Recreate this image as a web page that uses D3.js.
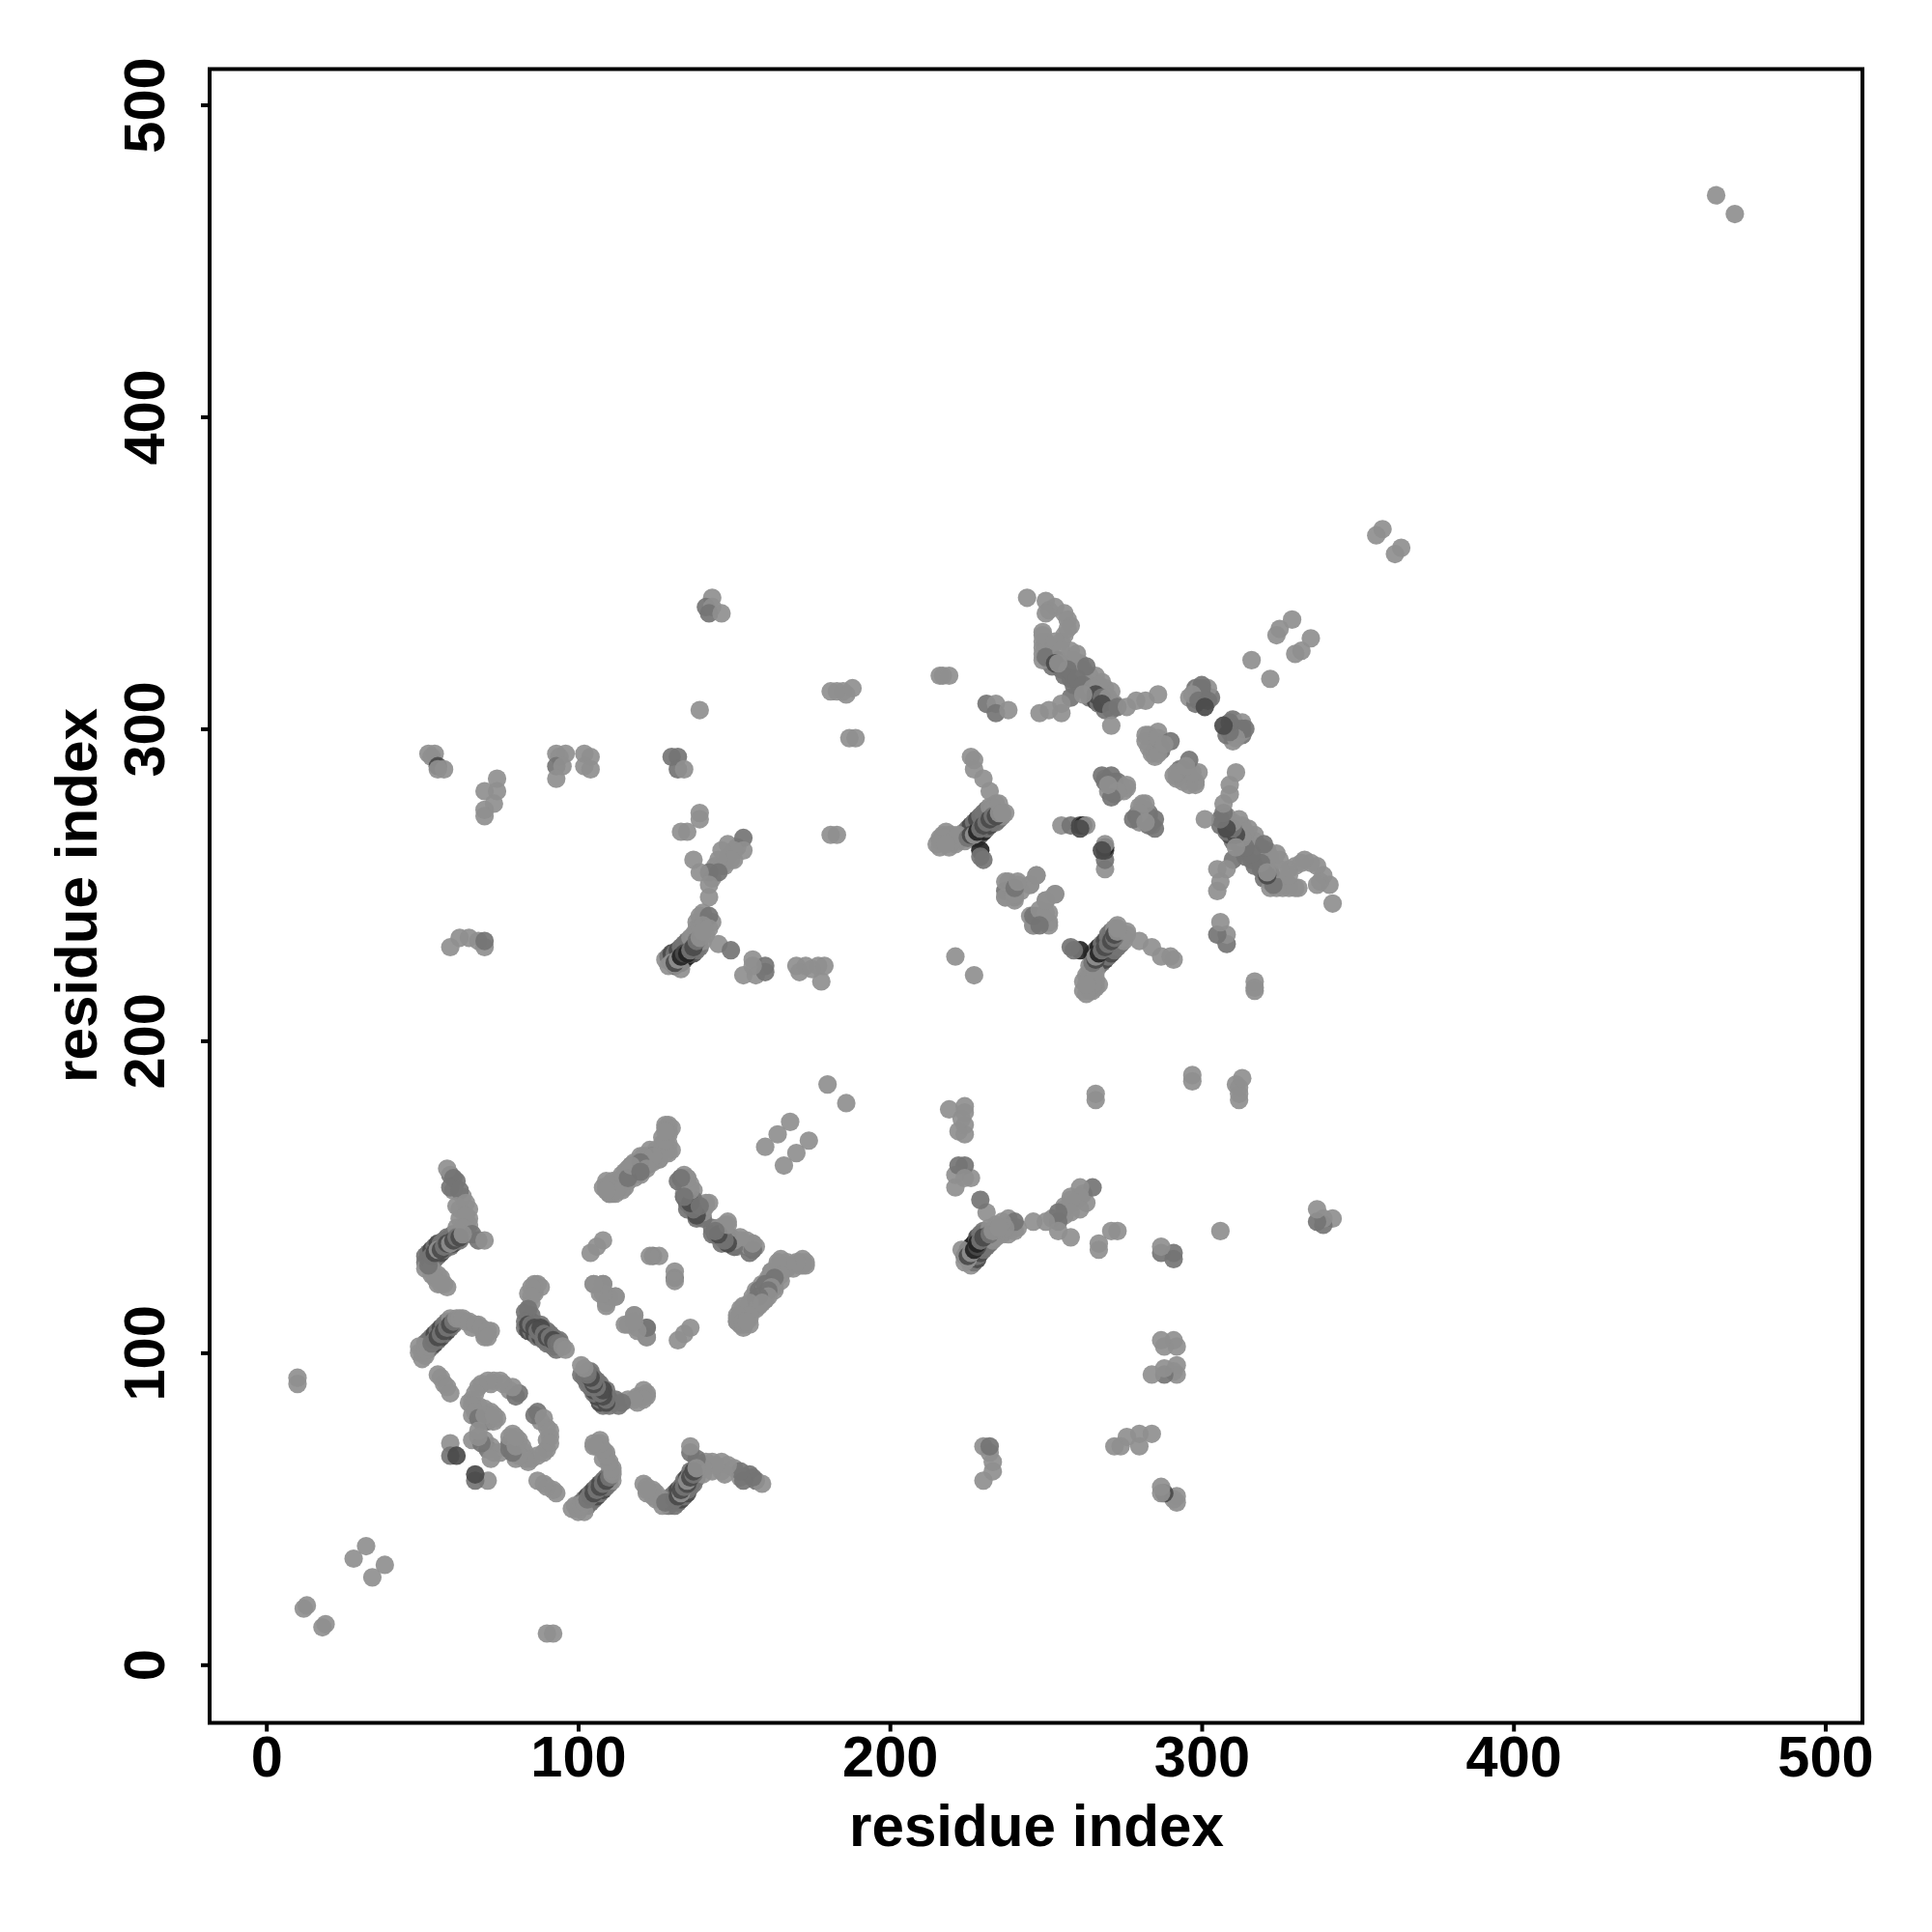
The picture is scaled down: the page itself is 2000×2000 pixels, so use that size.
<!DOCTYPE html>
<html><head><meta charset="utf-8">
<script src="https://cdnjs.cloudflare.com/ajax/libs/d3/7.8.5/d3.min.js"></script>
<style>html,body{margin:0;background:#fff}svg{display:block}</style></head>
<body><svg id="c" width="2000" height="2000"></svg>
<script>
// contacts [i, j, weight], i<j; contact maps are symmetric so each is also shown at (j,i)
const nearDiagonal = [[12,18,0],[13,19,0],[28,34,0],[32,38,0],[180,186,0],[358,364,0],[356,362,0],[465,471,0],[221,227,0],[168,174,0],[164,170,0],[160,166,0],[10,90,0],[10,92,0]];
const sideStrands = [
 [54,130,1],[55,131,1],[56,132,2],[57,133,1],[58,134,2],[59,134,1],[60,135,2],[61,136,1],[62,136,1],[51,131,1],[52,132,1],[53,133,2],[54,134,1],[55,135,2],[56,135,1],[57,136,1],[58,137,1],[59,137,1],[60,138,1],
 [52,101,1],[53,102,1],[54,103,2],[55,104,1],[56,105,2],[57,106,1],[58,107,2],[59,108,1],[60,109,1],[61,110,1],[51,103,1],[52,104,1],[53,105,1],[54,106,2],[55,107,1],[56,108,2],[57,109,1],[58,110,1],[59,111,0],
 [85,110,2],[86,109,1],[87,108,2],[88,109,1],[89,107,2],[90,107,1],[91,106,1],[92,105,1],[93,104,1],[94,104,1],[83,108,1],[84,107,2],[85,107,1],[86,106,2],[87,105,1],[88,105,2],[89,104,1],[90,103,1],[91,103,1],[92,102,1],[93,101,1],
 [131,224,2],[132,225,1],[133,225,3],[134,226,2],[135,227,3],[136,228,1],[137,228,2],[138,229,1],[139,230,1],[140,232,0],[128,226,0],[129,227,1],[130,228,2],[131,228,1],[132,229,2],[133,230,1],[134,231,1],[135,232,1],[136,233,0],[137,234,0],[138,235,0],
 [227,265,1],[228,265,2],[229,266,1],[230,267,3],[231,268,1],[232,269,2],[233,270,1],[234,270,1],[235,271,1],[236,272,0],[237,273,0],[224,267,0],[225,268,1],[226,269,2],[227,270,1],[228,271,2],[229,272,1],[230,273,1],[231,274,1],[232,275,0],[233,275,0],[234,276,0],
 [216,265,0],[219,264,0],[221,263,0],[223,265,0],[224,264,0],[216,262,0],[219,262,0],[216,264,0],[217,266,0],[218,267,0],[219,266,0],[220,266,0],[221,265,0],[222,264,0],
 [251,325,1],[252,323,1],[254,322,2],[256,320,1],[258,318,2],[260,318,1],[262,316,1],[264,314,2],[266,313,1],[268,312,1],[270,309,1],[272,308,0],[251,322,1],[252,320,1],[255,319,1],[256,317,1],[258,316,1],[259,314,1],[261,313,1],[263,312,1],[264,310,1],[266,309,2],[267,308,1],[269,306,1],
 [249,322,0],[249,326,0],[249,328,0],[249,331,0],[250,326,0],[250,328,0],[251,327,0],[255,328,0],[258,325,0],[259,322,0],[261,321,0],[262,319,0],[264,317,0],[266,317,0],[268,315,0],[269,313,0],[271,312,0],[251,338,0],[256,337,0],[258,333,0],[256,330,0],
 [298,313,1],[300,312,1],[296,310,0],[298,308,1],[303,310,1],[299,313,0],[302,313,0],[300,311,1],[300,314,1],
 [287,294,0],[284,292,0],[283,294,0],[283,298,0],[286,299,0],[285,296,0],[282,296,0],[287,293,1],[285,291,0],
 [269,284,0],[271,285,1],[273,283,1],[275,280,0],[272,279,1],[274,282,0],[270,280,0],[269,283,1],[276,281,0],
 [69,90,0],[72,90,0],[73,91,0],[76,90,0],[78,88,0],[80,86,1],[66,85,0],[65,84,0],[66,80,0],[69,78,1],[71,78,1],[73,78,0],[70,82,0],[72,81,0],[74,79,0],[68,83,0],
 [110,151,0],[111,153,0],[113,154,0],[115,153,0],[114,156,0],[117,157,1],[115,158,0],[117,160,0],[119,159,1],[121,160,0],[120,163,0],[122,163,0],[124,161,0],[123,165,0],[126,164,0],[127,166,0],[127,169,0],[128,172,0],[128,167,0],[130,172,0],[130,165,0],[126,162,0],[109,153,0],[111,151,0],
 [165,127,0],[167,127,0],[171,129,0],[162,126,0],[161,123,0],[163,121,0],[159,119,0],[157,120,0],[155,115,0],[153,113,0],[157,114,0],[154,111,0],[151,110,0],[153,108,0],[155,111,0],
 [134,155,0],[136,154,0],[134,150,1],[136,150,0],[137,148,1],[139,147,0],[138,143,1],[140,146,0],[143,140,1],[145,140,0],[147,141,0],[146,135,1],[149,137,1],[151,134,0],[153,135,0],[154,134,0],[155,132,1],[157,134,0],
 [59,157,1],[61,155,1],[60,152,0],[63,150,0],[62,146,0],[65,146,0],[65,143,0],[62,143,0],[64,141,0],[61,140,0],[65,141,0],[53,125,0],[56,124,0],[55,122,0],[58,121,0],[51,129,1],[51,127,0],
 [64,110,0],[66,108,0],[68,109,0],[70,106,0],[72,107,0],[70,105,0],[84,119,0],[86,119,0],[85,116,0],[83,113,1],[85,112,1],[86,120,0],[88,121,0],[49,100,0],[50,98,0],[51,99,0],[49,102,0],
 [138,238,0],[141,238,0],[140,241,0],[138,236,0],[141,234,0],[139,237,0],[143,238,0],[148,263,0],[148,259,0],[147,256,0],[144,256,0],[143,252,0],[146,256,0],[151,262,0],[150,258,0]
];
const armA = [[58,159,0],[60,156,1],[59,153,1],[62,152,1],[61,147,0],[64,148,0],[64,144,0],[63,140,0],[66,138,1],[68,136,1],[70,136,0],
 [52,130,1],[53,127,0],[57,122,0],[55,125,0],[54,124,0],[56,122,0],[52,128,1],[53,131,1],[54,132,2],[55,133,0],[56,133,2],[57,134,1],[58,135,2],[59,135,0],[60,136,2],[61,137,1],[62,137,2],[63,138,0]];
const armB = [[50,100,0],[51,101,0],[52,102,0],[53,103,1],[54,104,1],[55,105,2],[56,106,1],[57,107,2],[58,108,1],[59,109,2],[60,110,1],[61,111,0],[62,111,0],[63,111,0],[65,110,0],[67,109,0],[69,108,0],[71,107,0],[71,105,0]];
const armC = [[86,122,0],[87,122,0],[85,121,0],[85,118,0],[84,114,1],[83,110,1],[84,109,2],[85,109,1],[86,108,2],[87,107,1],[88,108,2],[89,106,1],[90,105,2],[91,105,1],[92,104,2],[93,103,1],[94,103,1],[95,102,0],[96,101,0]];
const loopF = [[55,93,0],[56,92,0],[57,90,0],[58,89,0],[59,87,0],[81,87,1],[79,89,0],[75,91,0],[71,91,0],[68,89,0],[67,87,0],[66,83,0],[67,81,0],[68,79,1],[70,80,0],[73,80,0],[59,71,0],[59,67,1],[61,67,2],[66,72,0],[72,70,0],[71,69,1],[73,68,0],[75,68,0]];
const armL = [[129,173,0],[129,170,0],[129,167,0],[129,164,0],[125,165,0],[124,163,1],[122,160,1],[121,162,0],[120,161,1],[118,161,0],[118,158,1],[116,155,0],[114,152,0],[112,155,0],[112,151,0],[110,153,0],[110,154,0],[116,159,0],
 [108,136,0],[106,134,0],[104,132,0],[105,122,0],[108,122,1],[107,119,0],[112,118,0],[109,116,0],[110,118,0],[115,109,0],[118,112,0],[119,108,0],[122,108,0],[122,105,0],[124,131,1],[126,131,0],[123,131,0]];
const armM = [[133,156,1],[135,156,0],[137,152,0],[135,148,2],[136,147,1],[138,145,2],[141,148,0],[139,144,1],[148,142,0],[144,138,2],[146,137,1],[148,136,2],[147,139,1],[152,136,0],[150,134,1],[156,135,0],[156,133,1]];
const armO = [[164,128,0],[168,128,0],[173,128,0],[171,128,0],[163,124,0],[161,120,1],[159,122,0],[156,118,0],[152,112,0],[155,109,0],[156,116,1],[160,117,0],[152,109,0],[158,120,1]];
const upperLeftA = [[52,292,0],[54,292,0],[53,291,0],[55,288,2],[55,287,0],[57,287,0],[74,284,0],[74,280,0],[70,280,0],[73,276,0],[70,274,0],[70,272,0],
 [93,292,0],[96,292,0],[94,291,0],[93,288,1],[95,288,0],[93,284,0],[102,292,0],[104,291,0],[102,288,0],[104,287,0],
 [130,291,1],[132,291,1],[132,287,1],[134,287,0],[139,306,0],[143,342,0],[141,339,1],[143,339,0],[142,337,1],[146,337,0],
 [181,312,0],[183,312,0],[186,311,0],[185,312,0],[188,313,0],[187,297,0],[189,297,0],[181,266,0],[183,266,0]];
const upperLeftB = [[139,273,0],[139,271,0],[133,267,0],[135,267,0],[153,265,1],[153,261,0],[150,261,0],[146,261,0],[149,258,0],[145,258,0],[145,254,1],[142,254,1],[137,258,0],[139,254,0],[142,250,0],[142,246,0],
 [139,240,0],[142,240,1],[140,237,0],[142,236,0],[129,224,0],[130,225,0],[133,223,0],[131,225,2],[132,226,0],[133,227,3],[134,228,2],[135,228,3],[136,229,1],[137,230,2],[138,232,1],[139,233,0],[140,235,0],
 [145,231,0],[149,229,1],[156,226,0],[160,224,1],[153,221,0],[157,221,0],[160,222,1],[156,224,0],
 [170,224,0],[171,222,0],[173,224,0],[175,223,0],[177,224,0],[178,219,0],[179,224,0],[59,230,0],[62,233,0],[65,233,0],[68,232,0],[70,230,0],[70,232,1]];
const centerUpper = [[217,317,0],[216,317,0],[219,317,0],[244,342,0],[250,341,0],[253,339,0],[250,337,0],[257,335,0],[257,332,0],[249,330,0],[249,324,0],[253,328,0],[250,323,1],[255,325,0],[253,321,2],[260,324,0],[257,319,1],[254,321,0],[263,320,1],[260,316,1],[262,314,1],[267,314,0],[265,313,0],[266,311,2],[268,310,1],[270,310,0],[268,308,2],[271,306,1],[271,301,0],[273,307,1],[276,307,0],[279,309,0],[282,309,0],[286,311,0],[258,310,1],[255,308,0],[251,306,0],[248,305,0],[255,305,0],[262,311,0],
 [231,308,1],[234,308,0],[234,305,1],[238,306,0],[300,313,1],[297,311,0],[299,309,1],[302,309,1],[301,307,2],[325,332,0],[324,330,0],[329,335,0],[316,322,0],
 [282,298,0],[286,297,0],[290,296,1],[286,292,0],[288,295,0],[268,285,1],[272,283,1],[276,282,0],[273,280,0],[271,278,1],[270,282,0]];
const centerLower = [[217,265,0],[218,265,0],[220,264,0],[222,266,0],[215,263,0],[218,263,0],[227,290,0],[226,291,0],[227,287,0],[230,284,0],[232,280,0],
 [229,261,3],[230,258,1],[229,259,1],[225,265,1],[226,266,2],[227,266,0],[228,267,3],[229,268,1],[230,269,2],[231,270,1],[232,271,2],[233,272,1],[234,272,2],[235,276,0],[235,273,0],[236,273,0],
 [255,269,0],[258,269,1],[261,269,2],[262,269,3],[263,269,0],[261,268,2],
 [238,251,0],[237,246,0],[240,246,1],[242,248,0],[241,250,0],[245,250,0],[247,253,0],[237,248,1],[245,240,0],[246,237,0],[250,245,0],[253,247,0],[247,240,0],[251,237,0],[249,240,1],[251,241,0]];

const contacts = [...sideStrands, ...nearDiagonal, ...armA, ...armB, ...armC, ...loopF, ...armL, ...armM, ...armO, ...upperLeftA, ...upperLeftB, ...centerUpper, ...centerLower];
const tickValues = [0, 100, 200, 300, 400, 500];
const axisTitle = "residue index";
const weightShades = ["#8f8f8f", "#747474", "#4a4a4a", "#232323"];

const svg = d3.select("#c");
const x = d3.scaleLinear().domain([0, 500]).range([275.7, 1889.5]);
const y = d3.scaleLinear().domain([0, 500]).range([1723.3, 108.5]);
const font = "'Liberation Sans', Arial, sans-serif";

const marks = contacts.map(d => ({a: d[0], b: d[1], w: d[2]})).concat(contacts.map(d => ({a: d[1], b: d[0], w: d[2]})));
svg.append("g").selectAll("circle").data(marks).join("circle")
  .attr("cx", d => x(d.a)).attr("cy", d => y(d.b)).attr("r", 9.6)
  .attr("fill", d => weightShades[d.w]).attr("fill-opacity", 0.92);

svg.append("rect").attr("x", 217).attr("y", 71.5).attr("width", 1711).attr("height", 1712)
  .attr("fill", "none").attr("stroke", "#000").attr("stroke-width", 4);

const ax = svg.append("g").attr("transform", "translate(0,1783.5)")
  .call(d3.axisBottom(x).tickValues(tickValues).tickSize(9).tickPadding(6).tickSizeOuter(0));
ax.select(".domain").remove();
ax.selectAll("line").attr("stroke", "#000").attr("stroke-width", 4);
ax.selectAll("text").attr("font-family", font).attr("font-weight", 700).attr("font-size", 59.5).attr("fill", "#000")
  .attr("dy", 0).attr("y", 55.5).attr("text-anchor", "middle");

const ay = svg.append("g").attr("transform", "translate(217,0)")
  .call(d3.axisLeft(y).tickValues(tickValues).tickSize(9).tickSizeOuter(0));
ay.select(".domain").remove();
ay.selectAll("line").attr("stroke", "#000").attr("stroke-width", 4);
ay.selectAll("text").attr("font-family", font).attr("font-weight", 700).attr("font-size", 59.5).attr("fill", "#000")
  .attr("x", 0).attr("dy", 0).attr("text-anchor", "middle")
  .attr("transform", "translate(-47,0) rotate(-90)");

svg.append("text").attr("x", 1073).attr("y", 1911).attr("text-anchor", "middle")
  .attr("font-family", font).attr("font-weight", 700).attr("font-size", 60.2).text(axisTitle);
svg.append("text").attr("transform", "translate(99.5,927) rotate(-90)").attr("text-anchor", "middle")
  .attr("font-family", font).attr("font-weight", 700).attr("font-size", 60.2).text(axisTitle);
</script></body></html>
